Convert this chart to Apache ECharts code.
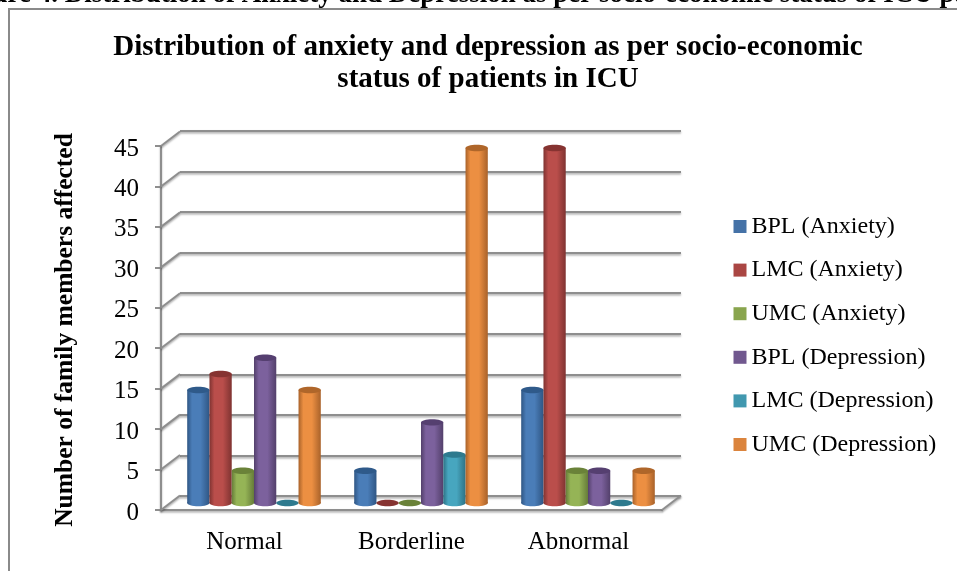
<!DOCTYPE html>
<html>
<head>
<meta charset="utf-8">
<style>html,body{margin:0;padding:0;background:#fff;overflow:hidden}#chart{width:957px;height:571px}</style>
<script src="https://cdn.jsdelivr.net/npm/echarts@6/dist/echarts.min.js"></script>
</head>
<body>
<div id="chart"></div>
<script>
// Anxiety and depression counts by socio-economic group
const categories = ['Normal', 'Borderline', 'Abnormal'];
const seriesNames = ['BPL (Anxiety)', 'LMC (Anxiety)', 'UMC (Anxiety)', 'BPL (Depression)', 'LMC (Depression)', 'UMC (Depression)'];
const bplAnxiety = [14, 4, 14];
const lmcAnxiety = [16, 0, 44];
const umcAnxiety = [4, 0, 4];
const bplDepression = [18, 10, 4];
const lmcDepression = [0, 6, 0];
const umcDepression = [14, 44, 4];
const seriesValues = [bplAnxiety, lmcAnxiety, umcAnxiety, bplDepression, lmcDepression, umcDepression];
const yTicks = [0, 5, 10, 15, 20, 25, 30, 35, 40, 45];

// [legend colour, cylinder edge, cylinder highlight, top cap]
const palette = [
  ['#4572A7', '#2F5684', '#4A7DB8', '#2F5A8A'],
  ['#AA4643', '#7F3331', '#BA4E4B', '#863331'],
  ['#89A54E', '#667C39', '#95B456', '#6A8239'],
  ['#71588F', '#53406B', '#7C619D', '#553F70'],
  ['#4198AF', '#2D7285', '#47A6BF', '#2E7A8E'],
  ['#DB843D', '#A9622A', '#EC8F42', '#AF662A']
];

const FONT = '"Liberation Serif", serif';
const GRID_GRAY = '#8E8E8E';
const lineShadow = { shadowColor: 'rgba(0,0,0,0.35)', shadowBlur: 2, shadowOffsetY: 1.5 };
// Oblique offset from the front plane to the back wall
const DEPTH_X = 19, DEPTH_Y = -14.5;

function cylinder(colors, seriesIndex) {
  return function (params, api) {
    const base = api.coord([api.value(0), 0]);
    const top = api.coord([api.value(0), api.value(1)]);
    const band = api.size([1, 0])[0];
    const w = band * 0.8 / 6;
    const x0 = base[0] - band * 0.4 + seriesIndex * w;
    const rx = w / 2, ry = 3.2;
    const fill = new echarts.graphic.LinearGradient(0, 0, 1, 0, [
      { offset: 0, color: colors[1] },
      { offset: 0.22, color: colors[2] },
      { offset: 0.6, color: colors[2] },
      { offset: 1, color: colors[1] }
    ]);
    const children = [];
    if (api.value(1) > 0) {
      children.push(
        { type: 'ellipse', shape: { cx: x0 + rx, cy: base[1], rx: rx, ry: ry }, style: { fill: fill } },
        { type: 'rect', shape: { x: x0, y: top[1], width: w, height: base[1] - top[1] }, style: { fill: fill } }
      );
    }
    children.push({ type: 'ellipse', shape: { cx: x0 + rx, cy: top[1], rx: rx, ry: ry }, style: { fill: colors[3] } });
    return { type: 'group', children: children };
  };
}

// Oblique connectors joining the front axis ticks to the wall lines, plus the floor's right edge.
// The third data field picks the band edge: -1 left of the category, +1 right of it.
function connector(params, api) {
  const p = api.coord([api.value(0), api.value(1)]);
  const x = p[0] + api.value(2) * api.size([1, 0])[0] / 2;
  return {
    type: 'line',
    shape: { x1: x, y1: p[1], x2: x + DEPTH_X, y2: p[1] + DEPTH_Y },
    style: Object.assign({ stroke: GRID_GRAY, lineWidth: 2 }, lineShadow)
  };
}

const chart = echarts.init(document.getElementById('chart'), null, { renderer: 'canvas' });

const cylinderSeries = seriesNames.map((name, i) => ({
  name: name,
  type: 'custom',
  xAxisIndex: 2,
  yAxisIndex: 2,
  z: 5,
  itemStyle: { color: palette[i][0] },
  renderItem: cylinder(palette[i], i),
  encode: { x: 0, y: 1 },
  data: categories.map((c, j) => [j, seriesValues[i][j]])
}));

chart.setOption({
  backgroundColor: '#fff',
  animation: false,
  title: [
    {
      text: 'Figure 4. Distribution of Anxiety and Depression as per socio-economic status of ICU patients',
      left: -50, top: -23,
      textStyle: { fontFamily: FONT, fontWeight: 'bold', fontSize: 27, color: '#000' }
    },
    {
      text: 'Distribution of anxiety and depression as per socio-economic\nstatus of patients in ICU',
      left: 483, top: 27, textAlign: 'center',
      textStyle: { fontFamily: FONT, fontWeight: 'bold', fontSize: 29, lineHeight: 32, color: '#000' }
    }
  ],
  legend: {
    orient: 'vertical',
    left: 728.5, top: 209.5,
    icon: 'rect',
    itemWidth: 13, itemHeight: 13,
    itemGap: 19.6,
    data: seriesNames,
    textStyle: { fontFamily: FONT, fontSize: 24, lineHeight: 24, color: '#000' }
  },
  graphic: [
    { type: 'polyline', shape: { points: [[9, 571], [9, 9], [957, 9]] }, style: { stroke: '#8A8A8A', lineWidth: 2, fill: 'none' } }
  ],
  grid: [
    { left: 180, width: 501, top: 131, height: 365 },
    { left: 161, width: 501, top: 146, height: 364 },
    { left: 170.5, width: 501, top: 140, height: 363 }
  ],
  xAxis: [
    { gridIndex: 0, type: 'category', data: categories, show: false },
    {
      gridIndex: 1, type: 'category', data: categories,
      axisLine: { lineStyle: Object.assign({ color: GRID_GRAY, width: 2 }, lineShadow) },
      axisTick: { show: false },
      axisLabel: { fontFamily: FONT, fontSize: 25, color: '#000', margin: 20 }
    },
    { gridIndex: 2, type: 'category', data: categories, show: false }
  ],
  yAxis: [
    {
      gridIndex: 0, type: 'value', min: 0, max: 45, interval: 5,
      axisLine: { show: false }, axisTick: { show: false }, axisLabel: { show: false },
      splitLine: { lineStyle: Object.assign({ color: GRID_GRAY, width: 2 }, lineShadow) }
    },
    {
      gridIndex: 1, type: 'value', min: 0, max: 45, interval: 5,
      name: 'Number of family members affected',
      nameLocation: 'middle', nameGap: 83, nameRotate: 90,
      nameTextStyle: { fontFamily: FONT, fontWeight: 'bold', fontSize: 25.5, color: '#000', padding: [0, 4, 0, 0] },
      axisLine: { show: true, lineStyle: Object.assign({ color: GRID_GRAY, width: 2 }, lineShadow) },
      axisTick: { show: true, length: 6, lineStyle: { color: GRID_GRAY, width: 2 } },
      axisLabel: { fontFamily: FONT, fontSize: 25, color: '#000', margin: 22, verticalAlign: 'top', lineHeight: 6 },
      splitLine: { show: false }
    },
    { gridIndex: 2, type: 'value', min: 0, max: 45, interval: 5, show: false }
  ],
  series: [
    {
      name: 'connectors',
      type: 'custom',
      xAxisIndex: 1,
      yAxisIndex: 1,
      z: 1,
      silent: true,
      renderItem: connector,
      encode: { x: 0, y: 1 },
      data: yTicks.map(t => [0, t, -1]).concat([[2, 0, 1]])
    }
  ].concat(cylinderSeries)
});
</script>
</body>
</html>
